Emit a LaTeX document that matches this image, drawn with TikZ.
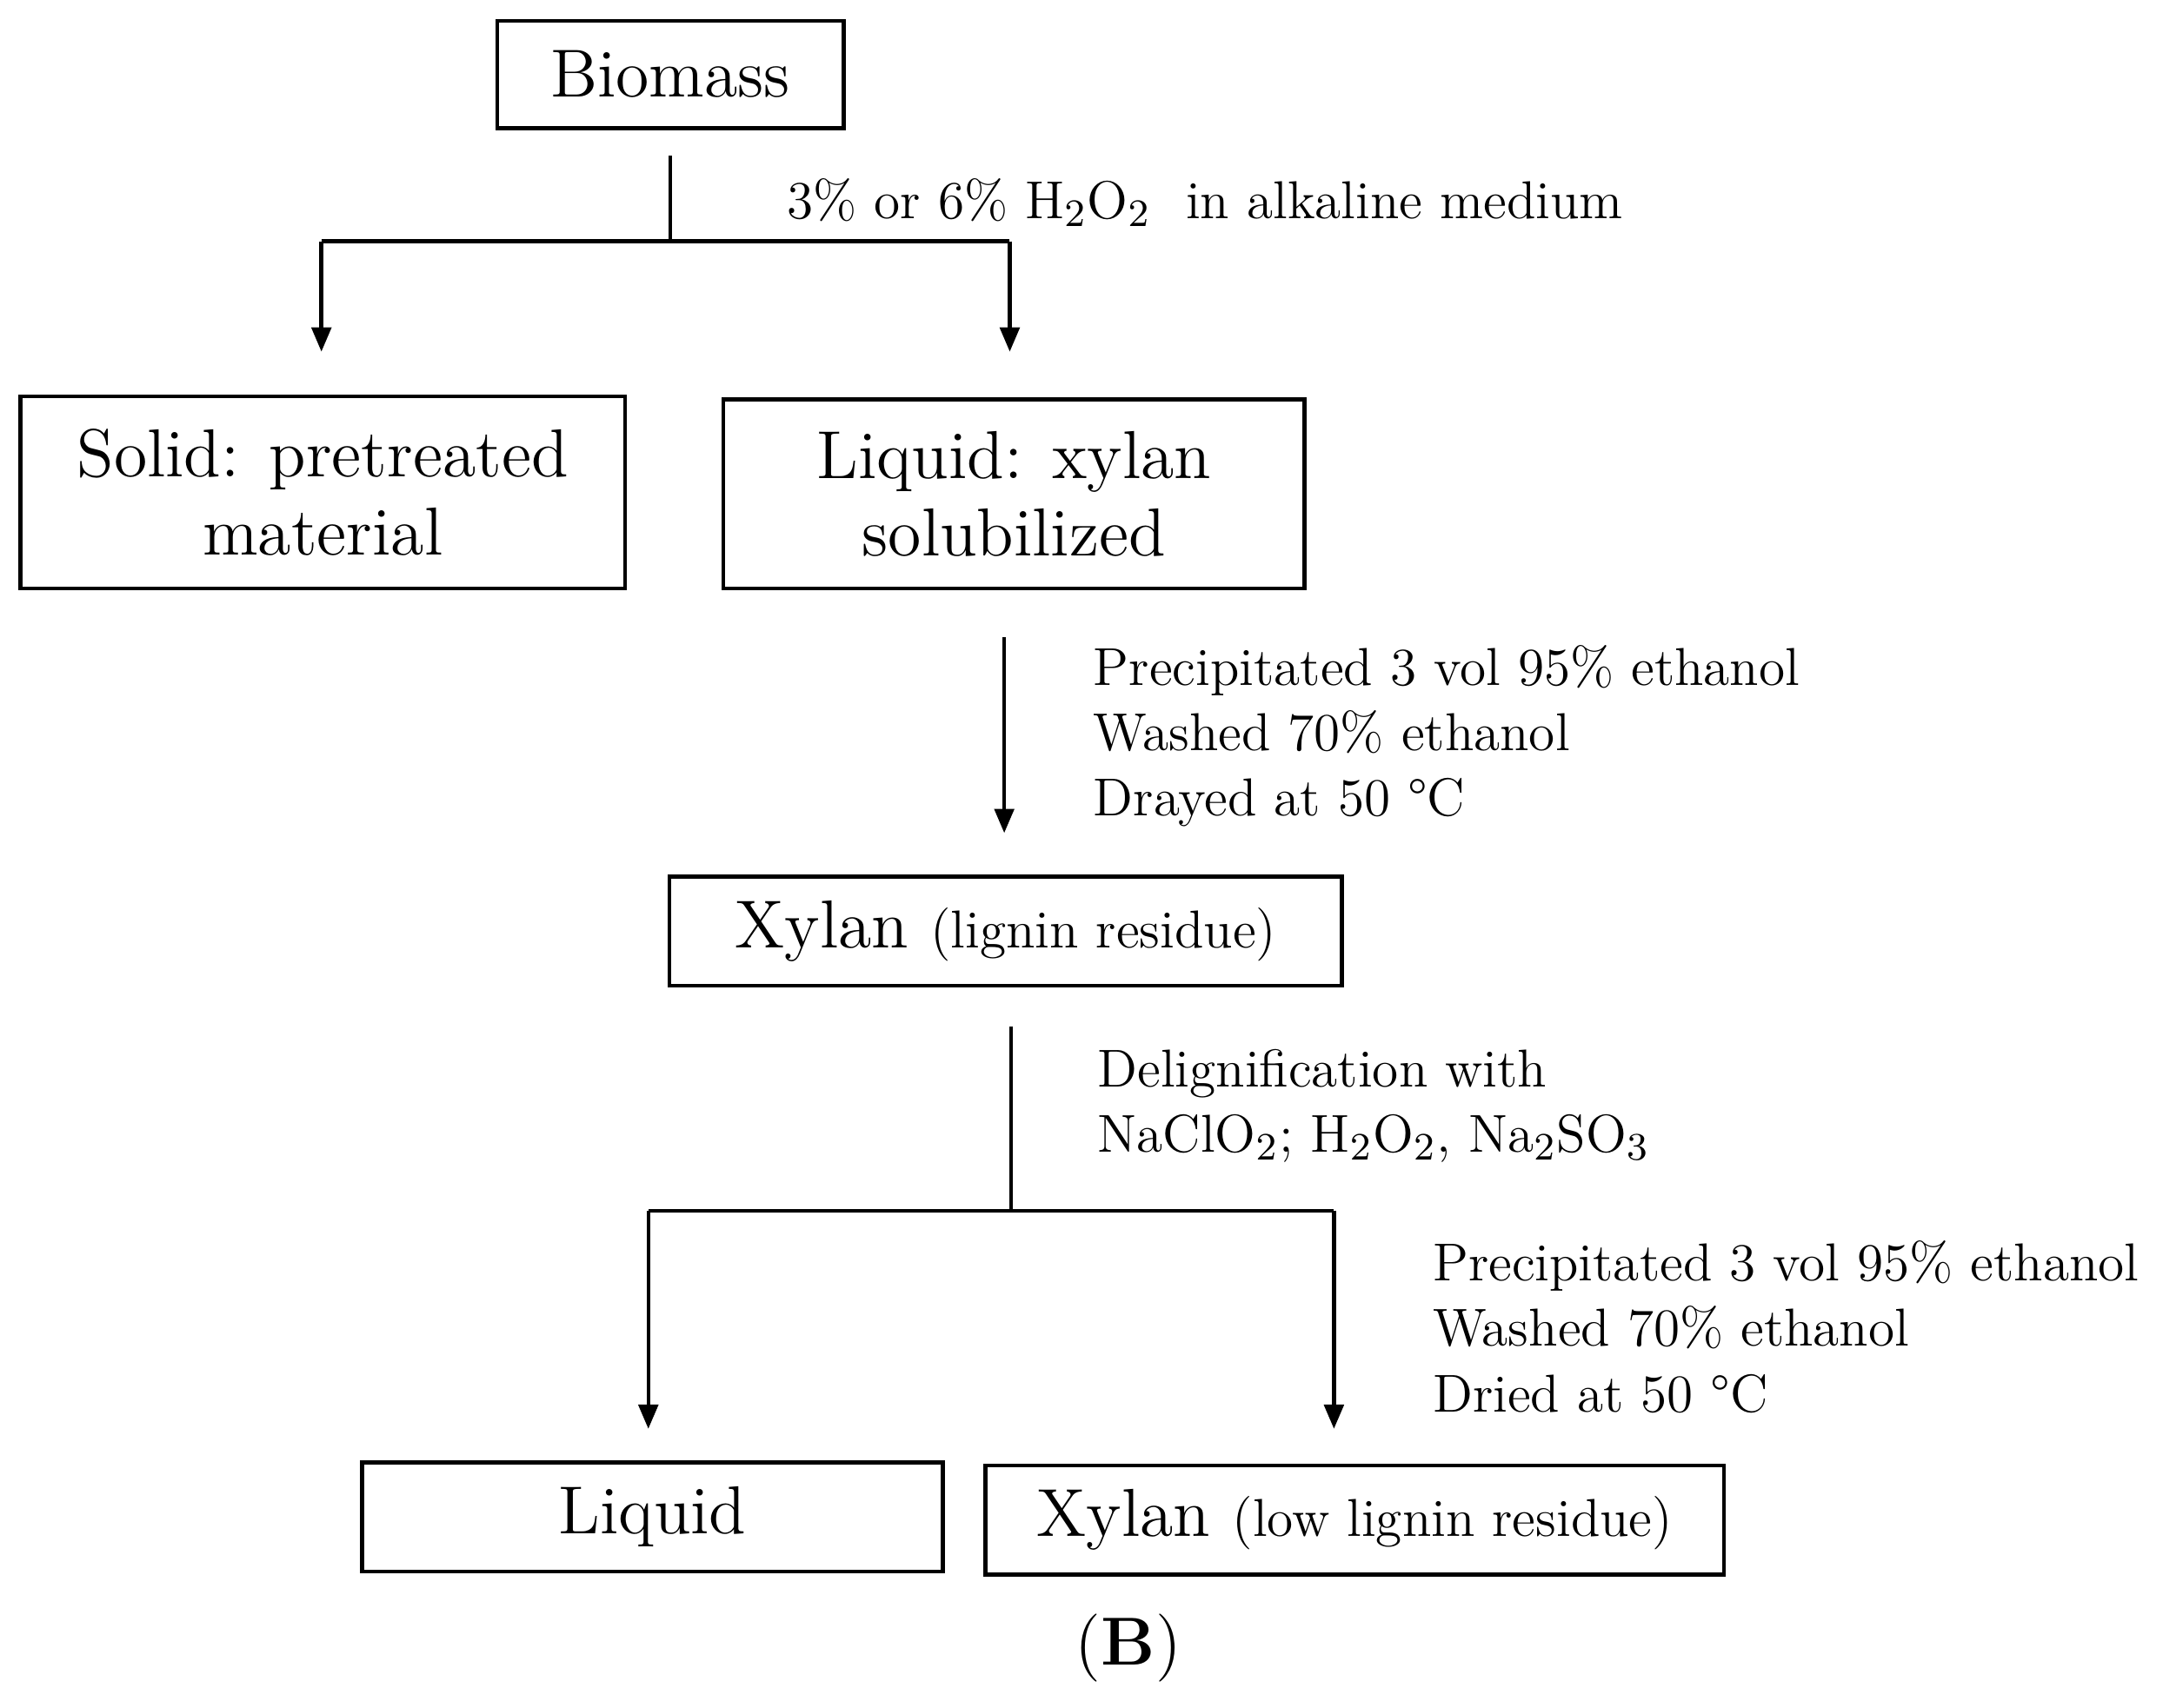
\documentclass[tikz,border=0pt]{standalone}
\usetikzlibrary{arrows.meta}
\begin{document}
\begin{tikzpicture}[x=0.01cm,y=-0.01cm,
  box/.style={draw,line width=0.8pt,minimum height=0.78cm,inner sep=0pt,font=\fontsize{14}{16}\selectfont},
  lbl/.style={anchor=west,inner sep=0pt,font=\fontsize{11}{12.5}\selectfont},
  arr/.style={line width=0.8pt,-{Triangle[length=5pt,width=4pt]}},
  ln/.style={line width=0.8pt}]
\useasboundingbox (0,0) rectangle (1568,1238);
\node[box,minimum width=2.51cm] (bio) at (486,54) {Biomass};
\node[box,minimum width=4.38cm,minimum height=1.39cm,align=center] (sol) at (234,357) {Solid: pretreated\\material};
\node[box,minimum width=4.21cm,minimum height=1.37cm,align=center] (liq) at (735,358) {Liquid: xylan\\solubilized};
\node[box,minimum width=4.87cm,minimum height=0.79cm] (xyl) at (729,675) {Xylan {\fontsize{11}{13}\selectfont(lignin residue)}};
\node[box,minimum width=4.21cm,minimum height=0.79cm] (lq2) at (473,1100) {Liquid};
\node[box,minimum width=5.35cm,minimum height=0.79cm] (xy2) at (982,1102) {Xylan {\fontsize{11}{13}\selectfont(low lignin residue)}};
\coordinate (j1) at (486,175);
\coordinate (j1l) at (233,175);
\coordinate (j1r) at (732,175);
\coordinate (t1l) at (233,255);
\coordinate (t1r) at (732,255);
\draw[ln] (486,113) -- (j1);
\draw[ln] (j1l) -- (j1r);
\draw[arr] (j1l) -- (t1l);
\draw[arr] (j1r) -- (t1r);
\node[lbl] (l1) at (570,147) {3\% or 6\% H$_2$O$_2$\ \ in alkaline medium};
\coordinate (a2s) at (728,462);
\coordinate (a2e) at (728,604);
\draw[arr] (a2s) -- (a2e);
\node[lbl,align=left,anchor=north west] (l2) at (792,467) {Precipitated 3 vol 95\% ethanol\\[1pt]Washed 70\% ethanol\\[1pt]Drayed at 50 °C};
\coordinate (j3) at (733,878);
\coordinate (j3l) at (470,878);
\coordinate (j3r) at (967,878);
\draw[ln] (733,744) -- (j3);
\draw[ln] (j3l) -- (j3r);
\draw[arr] (j3l) -- (470,1036);
\draw[arr] (j3r) -- (967,1036);
\node[lbl,align=left,anchor=north west] (l3) at (795,760) {Delignification with\\[1pt]NaClO$_2$; H$_2$O$_2$, Na$_2$SO$_3$};
\node[lbl,align=left,anchor=north west] (l4) at (1038,899) {Precipitated 3 vol 95\% ethanol\\[1pt]Washed 70\% ethanol\\[1pt]Dried at 50 °C};
\node[font=\fontsize{14}{16}\selectfont] (b) at (818,1195) {(\textbf{B})};
\end{tikzpicture}
\end{document}
